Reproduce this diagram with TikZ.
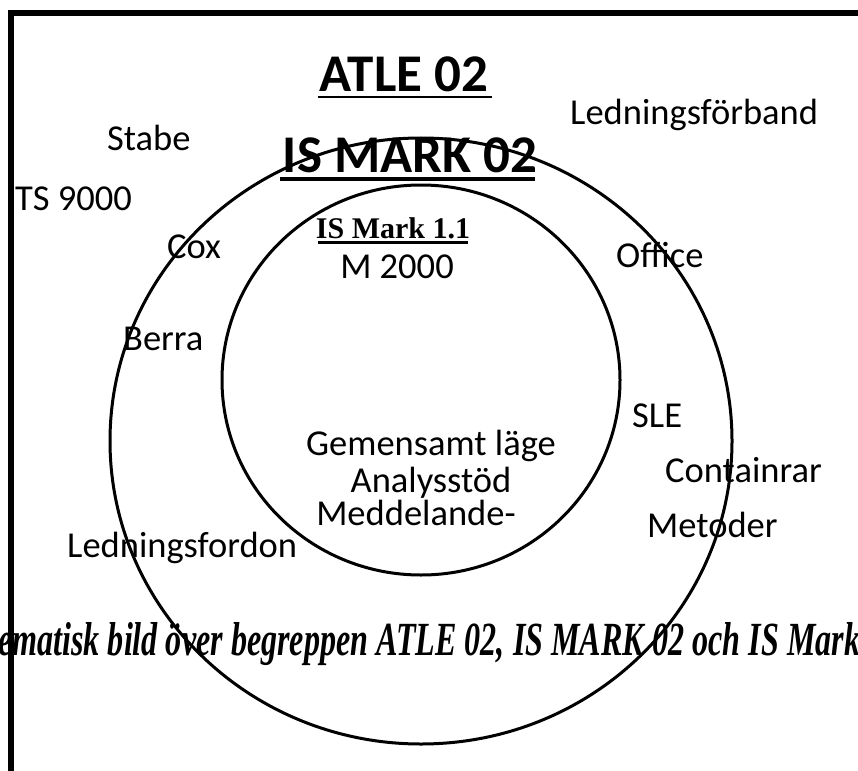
\documentclass[tikz,border=0pt]{standalone}
\usepackage{fontspec}
\setmainfont{Carlito}
\newfontfamily\timesfont{Liberation Serif}
\begin{document}
\begin{tikzpicture}[x=1pt,y=-1pt,
  lbl/.style={inner sep=0pt, anchor=base west, font=\fontsize{36.5}{40}\selectfont},
  clbl/.style={inner sep=0pt, anchor=base, font=\fontsize{36.5}{40}\selectfont},
  ttl/.style={inner sep=0pt, anchor=base, font=\fontsize{53}{56}\selectfont\bfseries},
  ring/.style={line width=3pt},
  frameline/.style={line width=5.7pt, line join=miter}]
\useasboundingbox (0,0) rectangle (858,770);
% frame
\draw[frameline] (11.2,772) -- (11.2,13) -- (860,13);
% circles
\draw[ring] (421,441) ellipse [x radius=311pt, y radius=303pt];
\draw[ring] (421,380) ellipse [x radius=199pt, y radius=195pt];
% titles
\node[ttl] (atle) at (404,92) {ATLE 02};
\draw[line width=2.2pt] (318,97) -- (492,97);
\node[ttl] (ismark) at (410,172) {IS MARK 02};
\draw[line width=4.5pt] (280,179) -- (535,179);
\node[inner sep=0pt, anchor=base, font=\timesfont\bfseries\fontsize{30}{32}\selectfont] (ism11) at (393,238) {IS Mark 1.1};
\draw[line width=2.8pt] (318,242.5) -- (468,242.5);
% labels
\node[clbl] (m2000) at (397,278) {M 2000};
\node[lbl] (stabe) at (107,150) {Stabe};
\node[lbl] (ts) at (15,210) {TS 9000};
\node[lbl] (cox) at (167,258) {Cox};
\node[lbl] (lfb) at (570,125) {Ledningsförband};
\node[lbl] (office) at (616,267) {Office};
\node[lbl] (berra) at (123,350) {Berra};
\node[lbl] (sle) at (632,427) {SLE};
\node[lbl] (cont) at (665,482) {Containrar};
\node[lbl] (met) at (647,537) {Metoder};
\node[lbl] (lfd) at (67,557) {Ledningsfordon};
\node[clbl] (gem) at (431,455) {Gemensamt läge};
\node[clbl] (ana) at (431,492) {Analysstöd};
\node[clbl] (med) at (416,525) {Meddelande-};
% caption
\node[inner sep=0pt, anchor=base west] (cap) at (-2,655) {\resizebox{862pt}{33pt}{\timesfont\bfseries\itshape\fontsize{46}{48}\selectfont ematisk bild över begreppen ATLE 02, IS MARK 02 och IS Mark}};
\end{tikzpicture}
\end{document}
